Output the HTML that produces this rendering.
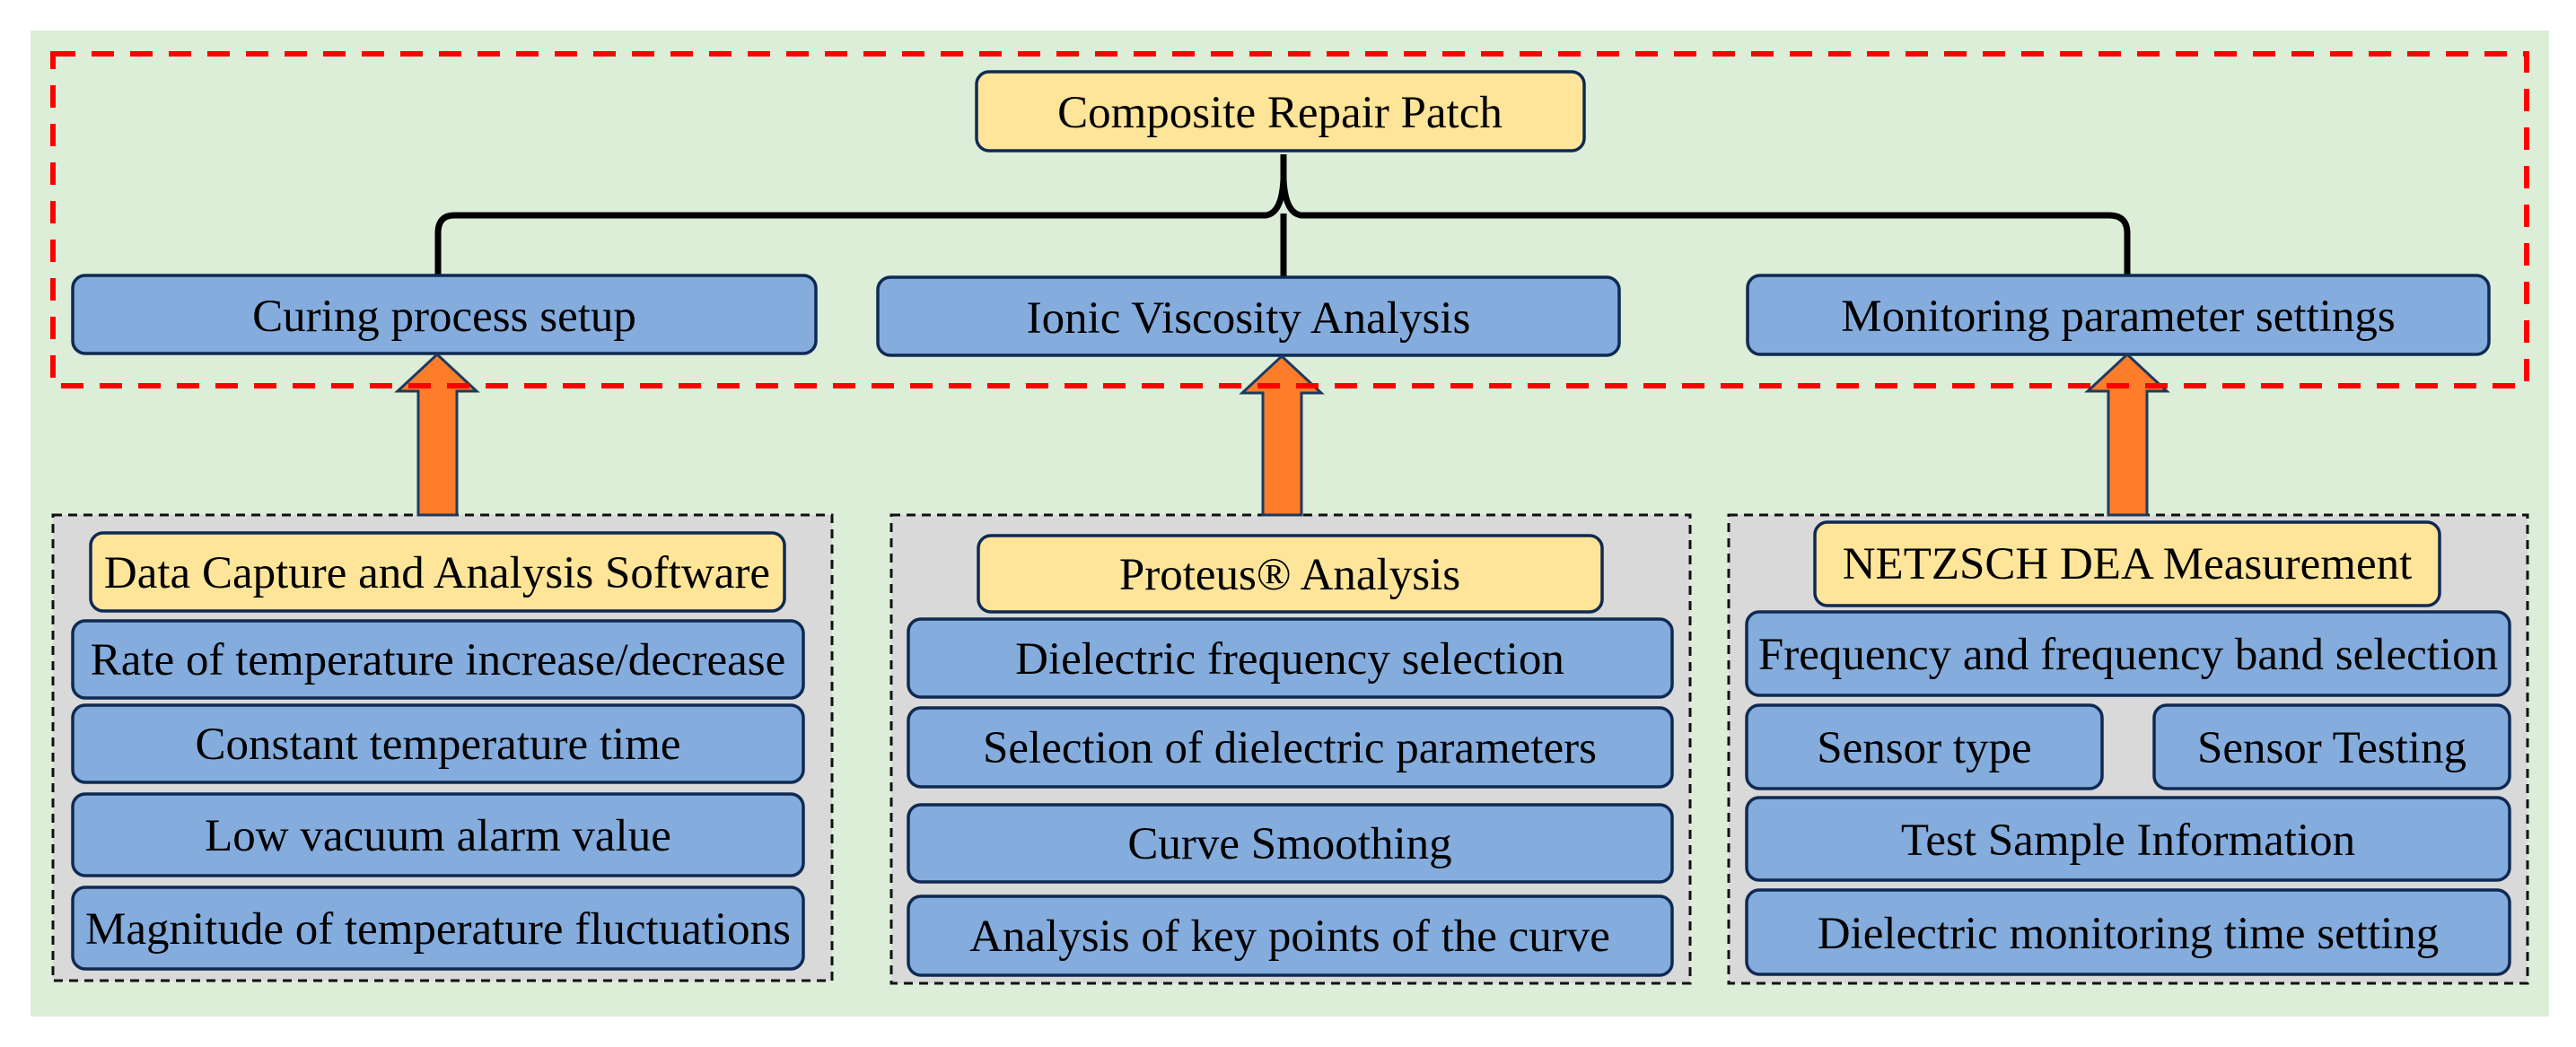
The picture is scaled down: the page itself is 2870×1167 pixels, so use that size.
<!DOCTYPE html>
<html><head><meta charset="utf-8"><style>
html,body{margin:0;padding:0;background:#fff;}
svg{display:block;}
.t{font-family:"Liberation Serif","Times New Roman","Noto Serif CJK SC","DejaVu Serif",serif;font-size:51px;fill:#000;text-anchor:middle;}
.b{fill:#84acdd;stroke:#0f2a52;stroke-width:3.5;}
.y{fill:#fee599;stroke:#0f2a52;stroke-width:3.5;}
.g{fill:#d9d9d9;stroke:#111;stroke-width:3;stroke-dasharray:10 7;}
.ar{fill:#fd7d2a;stroke:#1f3a5f;stroke-width:3;}
</style></head><body>
<svg width="2870" height="1167" viewBox="0 0 2870 1167" xmlns="http://www.w3.org/2000/svg">
<rect x="34" y="34" width="2806" height="1099" fill="#dcedd8"/>

<g fill="none" stroke="#000" stroke-width="7">
<path d="M488 308 L488 260 Q488 240 506 240 L1410 240 Q1428 238 1430 200 L1430 172"/>
<path d="M1430 200 Q1432 238 1450 240 L2350 240 Q2370 240 2370 260 L2370 308"/>
<path d="M1430 238 L1430 312"/>
</g>

<rect class="y" x="1088" y="80" width="677" height="88" rx="14"/>
<rect class="b" x="81" y="307" width="828" height="87" rx="14"/>
<rect class="b" x="978" y="309" width="826" height="87" rx="14"/>
<rect class="b" x="1947" y="307" width="826" height="88" rx="14"/>

<rect class="g" x="59" y="574" width="868" height="519"/>
<rect class="g" x="993" y="574" width="890" height="522"/>
<rect class="g" x="1926" y="574" width="890" height="522"/>

<path class="ar" d="M487 395 L531 436 L509 436 L509 574 L466 574 L466 436 L443 436 Z"/>
<path class="ar" d="M1428 397 L1472 438 L1450 438 L1450 574 L1407 574 L1407 438 L1384 438 Z"/>
<path class="ar" d="M2370 395 L2414 436 L2392 436 L2392 574 L2349 574 L2349 436 L2326 436 Z"/>

<rect x="59" y="60" width="2756" height="370" fill="none" stroke="#ff0000" stroke-width="6" stroke-dasharray="25 18"/>

<rect class="y" x="101" y="594" width="773" height="87" rx="14"/>
<rect class="b" x="81" y="692" width="814" height="86" rx="14"/>
<rect class="b" x="81" y="786" width="814" height="86" rx="14"/>
<rect class="b" x="81" y="885" width="814" height="91" rx="14"/>
<rect class="b" x="81" y="989" width="814" height="91" rx="14"/>

<rect class="y" x="1090" y="597" width="695" height="85" rx="14"/>
<rect class="b" x="1012" y="690" width="851" height="87" rx="14"/>
<rect class="b" x="1012" y="789" width="851" height="88" rx="14"/>
<rect class="b" x="1012" y="897" width="851" height="86" rx="14"/>
<rect class="b" x="1012" y="999" width="851" height="88" rx="14"/>

<rect class="y" x="2022" y="582" width="696" height="93" rx="14"/>
<rect class="b" x="1946" y="682" width="850" height="93" rx="14"/>
<rect class="b" x="1946" y="786" width="396" height="93" rx="14"/>
<rect class="b" x="2400" y="786" width="396" height="93" rx="14"/>
<rect class="b" x="1946" y="889" width="850" height="92" rx="14"/>
<rect class="b" x="1946" y="992" width="850" height="94" rx="14"/>

<g class="t">
<text class="t" x="1426" y="142">Composite Repair Patch</text>
<text class="t" x="495" y="369">Curing process setup</text>
<text class="t" x="1391" y="371">Ionic Viscosity Analysis</text>
<text class="t" x="2360" y="369">Monitoring parameter settings</text>
<text class="t" x="487" y="655">Data Capture and Analysis Software</text>
<text class="t" x="488" y="752">Rate of temperature increase/decrease</text>
<text class="t" x="488" y="846">Constant temperature time</text>
<text class="t" x="488" y="948">Low vacuum alarm value</text>
<text class="t" x="488" y="1052">Magnitude of temperature fluctuations</text>
<text class="t" x="1437" y="657">Proteus®  Analysis</text>
<text class="t" x="1437" y="751">Dielectric frequency selection</text>
<text class="t" x="1437" y="850">Selection of dielectric parameters</text>
<text class="t" x="1437" y="957">Curve Smoothing</text>
<text class="t" x="1437" y="1060">Analysis of key points of the curve</text>
<text class="t" x="2370" y="645">NETZSCH DEA Measurement</text>
<text class="t" x="2371" y="746">Frequency and frequency band selection</text>
<text class="t" x="2144" y="850">Sensor type</text>
<text class="t" x="2598" y="850">Sensor Testing</text>
<text class="t" x="2371" y="953">Test Sample Information</text>
<text class="t" x="2371" y="1057">Dielectric monitoring time setting</text>
</g>
</svg>
</body></html>
